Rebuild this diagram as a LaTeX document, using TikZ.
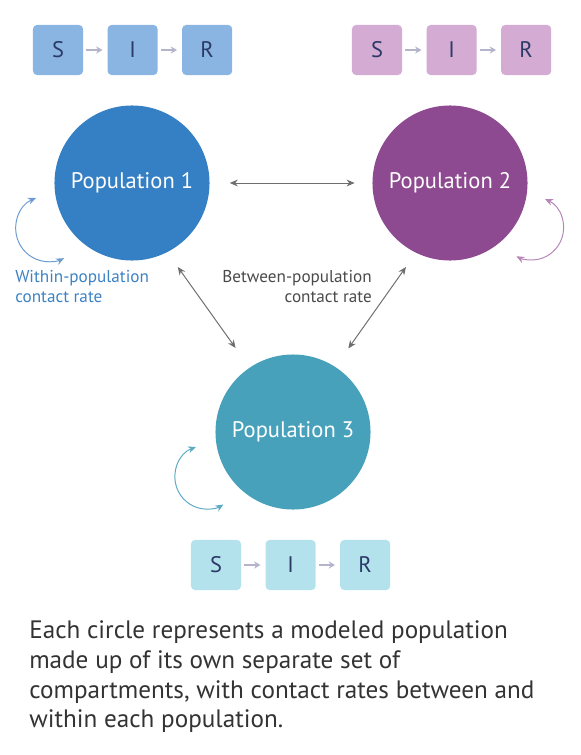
\documentclass[tikz,border=0pt]{standalone}
\usepackage{fontspec}
\setmainfont{PT Sans}
\usetikzlibrary{positioning,arrows.meta}

\definecolor{popone}{HTML}{3580C4}
\definecolor{poptwo}{HTML}{8E4A91}
\definecolor{popthree}{HTML}{48A1BA}
\definecolor{boxone}{HTML}{8AB4E1}
\definecolor{boxtwo}{HTML}{D3ABD3}
\definecolor{boxthree}{HTML}{B3E2EC}
\definecolor{sirtext}{HTML}{2B3A66}
\definecolor{flowgray}{HTML}{B4B4CC}
\definecolor{contactgray}{HTML}{6E6E6E}
\definecolor{loopone}{HTML}{6D9CD2}
\definecolor{looptwo}{HTML}{B785B8}
\definecolor{loopthree}{HTML}{5CAAC3}
\definecolor{captiontext}{HTML}{333333}
\definecolor{withinblue}{HTML}{3D82C4}
\definecolor{betweentext}{HTML}{4A4A4A}

\begin{document}
\begin{tikzpicture}[x=0.025cm,y=-0.025cm,
sirbox/.style={rectangle,rounded corners=0.1cm,minimum size=1.25cm,inner sep=0pt,
    text=sirtext,font=\fontsize{16}{18}\selectfont},
flowarrow/.style={draw=flowgray,line width=1.4pt,-{Stealth[length=0.16cm,width=0.18cm]},
    shorten <=0.08cm,shorten >=0.12cm},
popcircle/.style={circle,minimum size=3.875cm,inner sep=0pt,text=white,
    font=\fontsize{16}{18}\selectfont},
contact/.style={draw=contactgray,line width=0.7pt,
    {Stealth[length=0.2cm,width=0.17cm]}-{Stealth[length=0.2cm,width=0.17cm]}},
within/.style={line width=0.7pt,
    {Stealth[length=0.2cm,width=0.17cm]}-{Stealth[length=0.2cm,width=0.17cm]}},
smalltext/.style={font=\fontsize{12.2}{14.2}\selectfont}]
\useasboundingbox (0,0) rectangle (580,755);

% compartments of population 1
\node (s1) [sirbox,fill=boxone] at (58,50) {S};
\node (i1) [sirbox,fill=boxone,right=0.6cm of s1] {I};
\node (r1) [sirbox,fill=boxone,right=0.6cm of i1] {R};
\draw[flowarrow] (s1) -- (i1);
\draw[flowarrow] (i1) -- (r1);

% compartments of population 2
\node (s2) [sirbox,fill=boxtwo] at (377,50) {S};
\node (i2) [sirbox,fill=boxtwo,right=0.6cm of s2] {I};
\node (r2) [sirbox,fill=boxtwo,right=0.6cm of i2] {R};
\draw[flowarrow] (s2) -- (i2);
\draw[flowarrow] (i2) -- (r2);

% compartments of population 3
\node (s3) [sirbox,fill=boxthree] at (216,565) {S};
\node (i3) [sirbox,fill=boxthree,right=0.6cm of s3] {I};
\node (r3) [sirbox,fill=boxthree,right=0.6cm of i3] {R};
\draw[flowarrow] (s3) -- (i3);
\draw[flowarrow] (i3) -- (r3);

\node (pop1) [popcircle,fill=popone] at (132,183) {Population 1};
\node (pop2) [popcircle,fill=poptwo] at (450,183) {Population 2};
\node (pop3) [popcircle,fill=popthree] at (293,432) {Population 3};

% between-population contacts
\draw[contact,shorten <=0.5cm,shorten >=0.44cm] (pop1) -- (pop2);
\draw[contact,shorten <=0.45cm,shorten >=0.6cm] (pop1.-63) -- (pop3.124);
\draw[contact,shorten <=0.43cm,shorten >=0.56cm] (pop2.-116) -- (pop3.57);

% within-population contacts
\coordinate (w1) at (36,198);
\coordinate (w2) at (545,199);
\coordinate (w3) at (196,447);
\draw[within,draw=loopone] (w1) arc[start angle=113,end angle=297,radius=0.83cm];
\draw[within,draw=looptwo] (w2) arc[start angle=65,end angle=-118,radius=0.8cm];
\draw[within,draw=loopthree] (w3) arc[start angle=110,end angle=301,radius=0.8cm];

\node (withinlbl) [smalltext,text=withinblue,anchor=west,align=left,inner sep=0pt]
    at (15,287) {Within-population\\contact rate};
\node (betweenlbl) [smalltext,text=betweentext,anchor=east,align=right,inner sep=0pt]
    at (372,287) {Between-population\\contact rate};

\node (caption) [text=captiontext,anchor=west,align=left,inner sep=0pt,
    font=\fontsize{17.9}{21.1}\selectfont] at (29,677)
    {Each circle represents a modeled population\\made up of its own separate set of\\
    compartments, with contact rates between and\\within each population.};
\end{tikzpicture}
\end{document}
